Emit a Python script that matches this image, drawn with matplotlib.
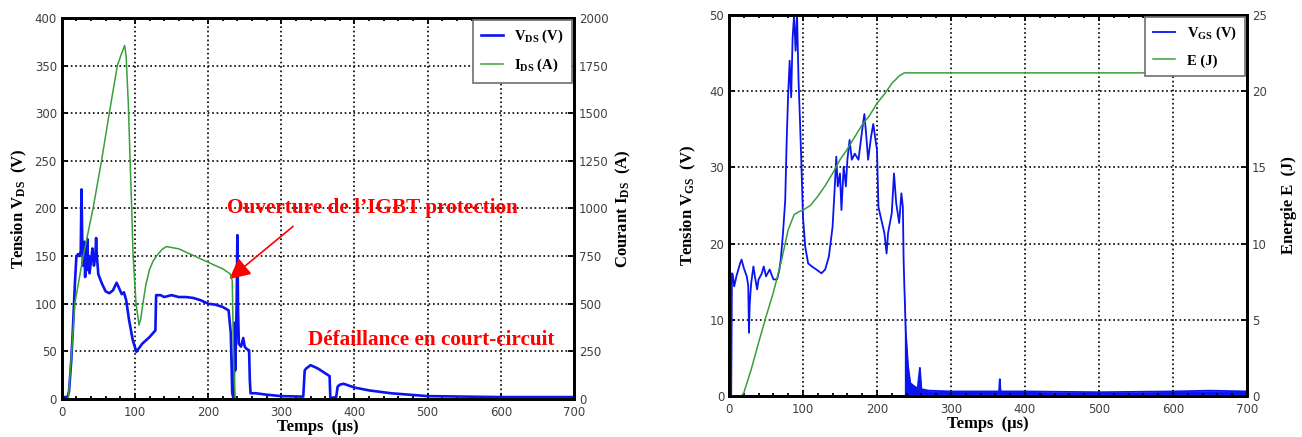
import numpy as np
import matplotlib.pyplot as plt

plt.rcParams['mathtext.fontset'] = 'custom'
plt.rcParams['mathtext.rm'] = 'Liberation Serif:bold'
plt.rcParams['mathtext.bf'] = 'Liberation Serif:bold'
plt.rcParams['mathtext.it'] = 'Liberation Serif:bold'

# ---- left panel: V_DS (V) and I_DS (A)
t_vds = [0, 8, 10, 13, 15, 18, 20, 22, 24, 26, 27, 28, 29, 31, 32, 33, 34, 35, 36, 37,
         38, 40, 42, 44, 46, 47, 48, 50, 55, 60, 65, 70, 75, 78, 82, 85, 88, 92, 97, 102,
         110, 120, 128, 129, 135, 140, 150, 160, 170, 180, 190, 200, 210, 220, 228, 231, 233, 235, 236, 237,
         238, 239, 240, 241, 242, 245, 248, 250, 252, 256, 257, 258, 265, 280, 300, 330, 332, 334, 340, 350,
         360, 366, 367, 375, 377, 380, 385, 400, 420, 450, 500, 550, 600, 650, 700]
vds = [2, 2, 8, 40, 69, 121, 149, 152, 150, 155, 220, 170, 140, 165, 128, 155, 135, 168, 140, 150,
       132, 145, 158, 140, 150, 169, 150, 131, 121, 113, 111, 114, 122, 117, 110, 112, 104, 83, 62, 49.5,
       58, 65, 72, 109, 109, 107, 109, 107, 107, 106, 103.6, 100, 99, 96.6, 93, 69, 6, 0, 80, 30,
       60, 100, 172, 90, 58, 55, 64, 55, 53, 51, 20, 6, 6, 4.5, 3, 2.5, 30, 32, 35.5, 32,
       27, 24, 1, 2, 13, 15, 16, 12, 9, 6, 3, 2.5, 2, 2, 2]

t_ids = [0, 9, 13.6, 18, 29.5, 43, 54.6, 65, 76, 82, 86, 88, 91, 93, 95.6, 97.5, 101.5, 105.6, 108, 111,
         115, 120, 125, 130, 137, 143, 150, 160, 170, 180, 190, 200, 210, 220, 230, 233, 235, 237, 700]
ids = [0, 0, 248, 503, 752, 1004, 1255, 1500, 1750, 1815, 1855, 1800, 1550, 1307, 1004, 752, 503, 388, 420, 503,
       600, 680, 725, 752, 785, 800, 795, 788, 770, 753, 735, 718, 700, 683, 657, 622, 170, 0, 0]

# ---- right panel: V_GS (V) and E (J)
t_vgs = [0, 3, 4, 5, 7, 8, 10, 15, 17, 20, 24, 26, 27, 28, 29, 30, 33, 35, 38, 40,
         44, 47, 50, 55, 60, 65, 68, 70, 73, 76, 78, 80, 82, 84, 86, 88, 90, 92, 94, 96,
         98, 100, 103, 107, 112, 118, 125, 130, 135, 140, 143, 145, 147, 150, 152, 155, 158, 160, 163, 166,
         170, 175, 180, 183, 186, 188, 192, 195, 198, 200, 202, 205, 210, 213, 215, 220, 223, 226, 230, 233,
         235, 236, 237, 239, 242, 245, 250, 255, 258, 260, 270, 300, 365, 366, 367, 400, 500, 600, 650, 700]
vgs = [0, 0, 16.1, 16, 14.4, 14.8, 15.7, 17.4, 17.9, 16.8, 15.7, 14.5, 8.3, 12, 13.5, 14.8, 17, 15.7, 14, 15.3,
       16, 17, 15.7, 16.6, 15.3, 15.3, 16.5, 17.9, 21.4, 25.7, 33.6, 39.7, 44, 39.2, 47, 50, 45.3, 50, 41.4, 36,
       30, 23.5, 19.6, 17.4, 17, 16.6, 16.1, 16.6, 18.3, 22.2, 27.5, 31.4, 27.5, 29.2, 24.4, 30.1, 27.5, 31, 33.6, 31,
       31.8, 31, 34.9, 37, 33.6, 31, 34, 35.7, 33.6, 32.3, 24.8, 23.5, 21.4, 18.7, 21.4, 24, 29.2, 25.3, 22.7, 26.6,
       24.8, 17.9, 14.4, 8.3, 3.9, 1.7, 1.3, 1.0, 3.7, 0.9, 0.7, 0.6, 0.6, 2.2, 0.6, 0.6, 0.5, 0.6, 0.7, 0.6]

t_e = [0, 17, 20, 30, 40, 50, 60, 70, 80, 88, 95, 100, 110, 120, 130, 140, 150, 160, 170, 180,
       190, 200, 210, 220, 230, 237, 700]
e = [0, 0, 0.2, 1.74, 3.5, 5.2, 6.8, 8.7, 10.9, 11.9, 12.1, 12.2, 12.5, 13.1, 13.8, 14.6, 15.5, 16.2, 17.0, 17.8,
     18.4, 19.2, 19.8, 20.5, 21.0, 21.2, 21.2]

BLUE = '#0a14f0'
GREEN = '#3a9e3a'
SERIF = 'Liberation Serif'


def style(ax, axr, ymax, ystep, rmax, rstep):
    ax.set_xlim(0, 700)
    ax.set_xticks(np.arange(0, 701, 100))
    ax.set_xticks(np.arange(0, 701, 20), minor=True)
    ax.set_ylim(0, ymax)
    ax.set_yticks(np.arange(0, ymax + 1, ystep))
    axr.set_ylim(0, rmax)
    axr.set_yticks(np.arange(0, rmax + 1, rstep))
    ax.tick_params(which='major', direction='in', top=True, length=4, width=1.3,
                   labelsize=8.5, labelcolor='#404040')
    ax.tick_params(axis='x', which='major', pad=5)
    ax.tick_params(which='minor', direction='in', top=True, length=2.5, width=1.3)
    axr.tick_params(direction='in', length=4, width=1.3, labelsize=8.5, labelcolor='#404040')
    ax.grid(True, which='major', color='k', linestyle=':', linewidth=1.2)
    for a in (ax, axr):
        for s in a.spines.values():
            s.set_linewidth(2)


def legend(ax, handles):
    lg = ax.legend(handles, [h.get_label() for h in handles], loc='upper right',
                   prop={'family': SERIF, 'weight': 'bold', 'size': 10.5}, fancybox=False,
                   edgecolor='#707070', framealpha=1, borderaxespad=0.15,
                   handlelength=1.5, labelspacing=0.8, borderpad=0.55)
    lg.get_frame().set_linewidth(1.2)


fig = plt.figure(figsize=(13.02, 4.37), dpi=100)

# left
ax1 = fig.add_axes([0.0474, 0.087, 0.3935, 0.872])
ax1r = ax1.twinx()
l1, = ax1.plot(t_vds, vds, color=BLUE, lw=1.9, label='V$_{DS}$ (V)')
l2, = ax1r.plot(t_ids, ids, color=GREEN, lw=1.1, label='I$_{DS}$ (A)')
style(ax1, ax1r, 400, 50, 2000, 250)
ax1.set_xlabel('Temps  (µs)', family=SERIF, weight='bold', fontsize=12, labelpad=0)
ax1.set_ylabel('Tension V$_{DS}$  (V)', family=SERIF, weight='bold', fontsize=12, labelpad=4)
ax1r.set_ylabel('Courant I$_{DS}$  (A)', family=SERIF, weight='bold', fontsize=12, labelpad=4)
legend(ax1r, [l1, l2])
ax1.annotate('', xy=(226, 124), xytext=(319, 183),
             arrowprops=dict(arrowstyle='-|>', color='red', lw=1.2, mutation_scale=32))
ax1.text(226, 200, 'Ouverture de l’IGBT protection', color='red', family=SERIF,
         weight='bold', fontsize=15.3, va='center', ha='left')
ax1.text(337, 62, 'Défaillance en court-circuit', color='red', family=SERIF,
         weight='bold', fontsize=15.3, va='center', ha='left')

# right
ax2 = fig.add_axes([0.5599, 0.0938, 0.3978, 0.872])
ax2r = ax2.twinx()
l3, = ax2.plot(t_vgs, vgs, color=BLUE, lw=1.3, label='V$_{GS}$ (V)')
tail = np.array(t_vgs) >= 237
ax2.fill_between(t_vgs, 0, vgs, where=tail, color=BLUE, lw=0)
l4, = ax2r.plot(t_e, e, color=GREEN, lw=1.1, label='E (J)')
style(ax2, ax2r, 50, 10, 25, 5)
ax2.set_xlabel('Temps  (µs)', family=SERIF, weight='bold', fontsize=12, labelpad=0)
ax2.set_ylabel('Tension V$_{GS}$  (V)', family=SERIF, weight='bold', fontsize=12, labelpad=8)
ax2r.set_ylabel('Energie E  (J)', family=SERIF, weight='bold', fontsize=12, labelpad=10)
legend(ax2r, [l3, l4])

fig.savefig('out.png', dpi=100)
